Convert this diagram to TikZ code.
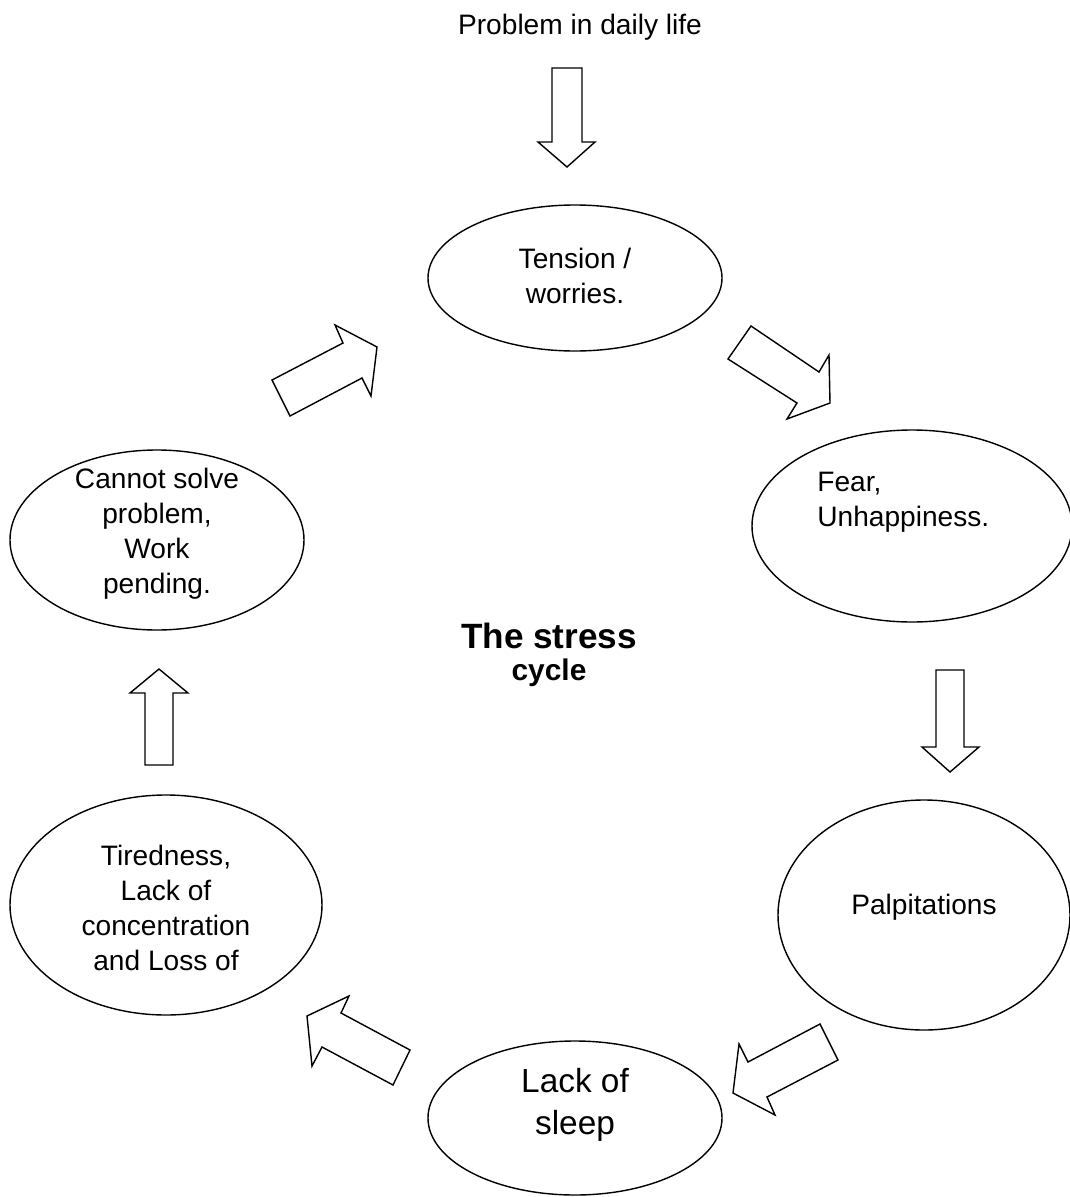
\documentclass[tikz,border=0pt]{standalone}
\usepackage{fontspec}
\setmainfont{Liberation Sans}
\usetikzlibrary{shapes.geometric}
\begin{document}
\begin{tikzpicture}[x=0.02cm,y=-0.02cm,
  bubble/.style args={#1 and #2}{draw=black, line width=0.8pt, ellipse, inner sep=0pt,
    minimum width={2*#1*0.02cm}, minimum height={2*#2*0.02cm}},
  blockarrow/.style={draw=black, line width=0.8pt, line join=miter, fill=white},
  txt/.style={align=center, inner sep=0pt, font=\fontsize{16}{20}\selectfont}]
\useasboundingbox (0,0) rectangle (1070,1197);
\fill[white] (0,0) rectangle (1070,1197);
\clip (0,0) rectangle (1070,1197);

% the six stages of the cycle
\node[bubble=147 and 73]  (tension) at (575,278) {};
\node[bubble=160 and 96]  (fear)    at (912,526) {};
\node[bubble=146 and 115] (palp)    at (924,915) {};
\node[bubble=147 and 77]  (sleep)   at (575,1118) {};
\node[bubble=156 and 110] (tired)   at (166,905) {};
\node[bubble=147 and 90]  (cannot)  at (157,540) {};

% stage texts
\node[txt] (problem) at (580,27) {Problem in daily life};
\node[txt] (tensiontxt) at (575,276) {Tension /\\worries.};
\node[txt, align=left, anchor=west] (feartxt) at (817,502) {Fear,\\Unhappiness.};
\node[txt] (palptxt) at (924,907) {Palpitations};
\node[txt, font=\fontsize{19}{24}\selectfont] (sleeptxt) at (575,1105) {Lack of\\sleep};
\node[txt] (tiredtxt) at (166,908) {Tiredness,\\Lack of\\concentration\\and Loss of};
\node[txt] (cannottxt) at (157,534) {Cannot solve\\problem,\\Work\\pending.};

% title in the middle
\node[inner sep=0pt, anchor=base, font=\bfseries\fontsize{20}{24}\selectfont]
  (titletop) at (549,648) {The stress};
\node[inner sep=0pt, anchor=base, font=\bfseries\fontsize{17}{20}\selectfont]
  (titlebottom) at (549,680) {cycle};

% block arrows between the stages
\draw[blockarrow] (552,68) -- (582,68) -- (582,142) -- (595,142) -- (567,167)
  -- (538,142) -- (552,142) -- cycle;
\draw[blockarrow] (751,326) -- (819,372) -- (829,355) -- (830,403) -- (787,419)
  -- (797,403) -- (728,359) -- cycle;
\draw[blockarrow] (936,670) -- (964,670) -- (964,747) -- (979,747) -- (950,772)
  -- (922,747) -- (936,747) -- cycle;
\draw[blockarrow] (820,1024) -- (838,1060) -- (767,1097) -- (775,1115) -- (733,1093)
  -- (739,1044) -- (748,1062) -- cycle;
\draw[blockarrow] (410,1050) -- (393,1085) -- (322,1047) -- (312,1066) -- (307,1016)
  -- (349,996) -- (341,1013) -- cycle;
\draw[blockarrow] (145,765) -- (173,765) -- (173,693) -- (188,693) -- (159,669)
  -- (130,693) -- (145,693) -- cycle;
\draw[blockarrow] (272,380) -- (343,343) -- (335,325) -- (377,347) -- (371,396)
  -- (362,378) -- (290,416) -- cycle;
\end{tikzpicture}
\end{document}
